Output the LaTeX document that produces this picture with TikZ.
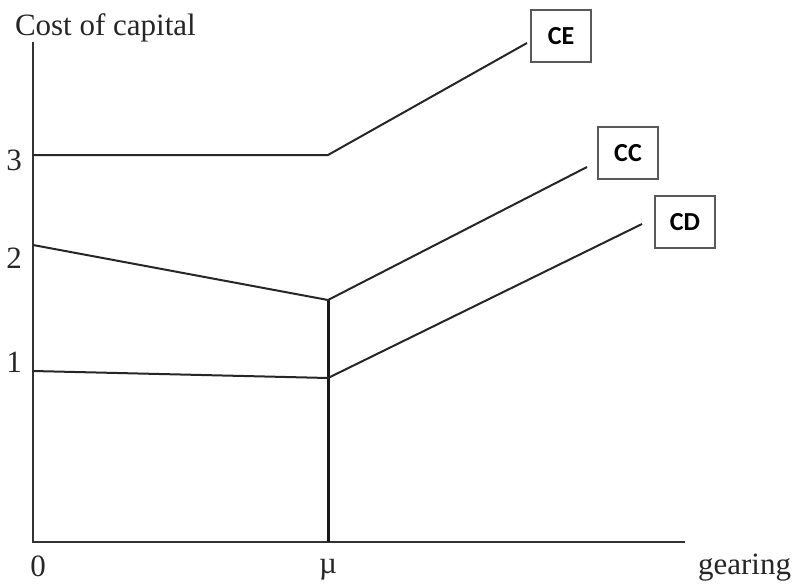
\documentclass[tikz,border=0pt]{standalone}
\usepackage{fontspec}
\setmainfont{Liberation Serif}
\newfontfamily\boxfont{Carlito}
\usepackage{tikz}
\usetikzlibrary{positioning,calc}

\begin{document}
\begin{tikzpicture}[x=1pt, y=-1pt,
  line width=2pt,
  axis/.style={line width=2.4pt, draw=black!80},
  curve/.style={line width=2pt, draw=black!85},
  tag/.style={rectangle, draw=black!65, line width=1.4pt, minimum width=60pt,
    minimum height=52pt, inner sep=0pt, font=\boxfont\bfseries\fontsize{26}{28}\selectfont},
  lbl/.style={font=\fontsize{31}{34}\selectfont, inner sep=0pt, text=black!85}]
\useasboundingbox (0,0) rectangle (794,583);
% axes
\coordinate (o) at (33,542);
\coordinate (ytop) at (33,42);
\coordinate (xend) at (685,542);
\draw[axis] (ytop) -- (o) -- (xend);
\coordinate (mu) at (328,542);
% corner points
\coordinate (e0) at (33,155);
\coordinate (e1) at (328,155);
\coordinate (e2) at (527,43);
\coordinate (c0) at (33,245);
\coordinate (c1) at (328,300);
\coordinate (c2) at (587,167);
\coordinate (d0) at (33,371);
\coordinate (d1) at (328,378);
\coordinate (d2) at (642,224);
\draw[axis, line width=3pt, draw=black!90] (c1) -- (mu);
\draw[curve] (e0) -- (e1) -- (e2);
\draw[curve] (c0) -- (c1) -- (c2);
\draw[curve] (d0) -- (d1) -- (d2);
% boxes
\node[tag] (ce) at (561,36) {CE};
\node[tag] (cc) at (628,153) {CC};
\node[tag] (cd) at (685,222) {CD};
% labels
\node[lbl, anchor=west] (ylab) at (14,28) {Cost of capital};
\node[lbl] (y3) at (14,160) {3};
\node[lbl] (y2) at (14,258) {2};
\node[lbl] (y1) at (14,362) {1};
\node[lbl] (x0) at (38,566) {0};
\node[lbl] (xmu) at (328,570) {µ};
\node[lbl, anchor=east] (xlab) at (792,568) {gearing};
\end{tikzpicture}
\end{document}
